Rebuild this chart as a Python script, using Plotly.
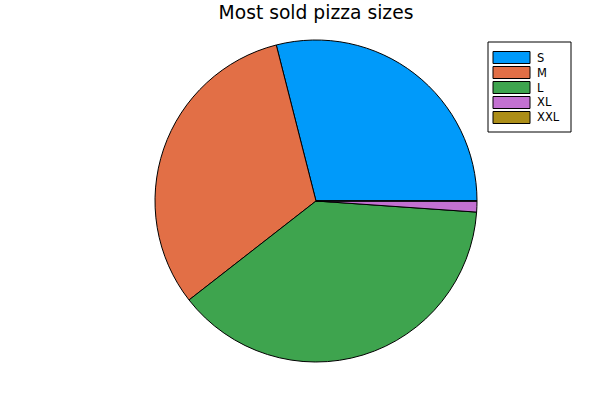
import plotly.graph_objects as go

sizes = ["S", "M", "L", "XL", "XXL"]
shares = [29.0, 31.6, 38.4, 1.1, 0.0]
colors = ["#009AFA", "#E26F46", "#3EA44E", "#C371D2", "#AC8E18"]

W, H = 600, 400


def px(x):
    return x / W


def py(y):
    return 1 - y / H


# first slice should start at 3 o'clock and run counterclockwise
first_span = 360.0 * shares[0] / sum(shares)

fig = go.Figure()
fig.add_trace(go.Pie(
    labels=sizes,
    values=shares,
    sort=False,
    direction="counterclockwise",
    rotation=90 - first_span,
    textinfo="none",
    hoverinfo="label+value",
    marker=dict(colors=colors, line=dict(color="#000000", width=1)),
    domain=dict(x=[px(155), px(477)], y=[py(362), py(40)]),
    showlegend=False,
))

# Plots.jl-style legend: framed box with wide swatches
shapes = [dict(type="rect", xref="paper", yref="paper",
               x0=px(488), x1=px(571), y0=py(132), y1=py(42),
               line=dict(color="#000000", width=1), fillcolor="white")]
annotations = []
for i, (lab, col) in enumerate(zip(sizes, colors)):
    yc = 57.5 + i * 15.0
    shapes.append(dict(type="rect", xref="paper", yref="paper",
                       x0=px(493), x1=px(530),
                       y0=py(yc + 6), y1=py(yc - 6),
                       line=dict(color="#000000", width=1), fillcolor=col))
    annotations.append(dict(xref="paper", yref="paper", x=px(535), y=py(yc),
                            text=lab, showarrow=False, xanchor="left", yanchor="middle",
                            font=dict(size=11.5, color="#000000")))

fig.update_layout(
    width=W, height=H,
    margin=dict(l=0, r=0, t=0, b=0),
    paper_bgcolor="white",
    plot_bgcolor="white",
    font=dict(family="DejaVu Sans", color="#000000"),
    title=dict(text="Most sold pizza sizes", x=px(316), xanchor="center",
               y=py(12), yanchor="middle", font=dict(size=18.7)),
    shapes=shapes,
    annotations=annotations,
    showlegend=False,
)

# drop the default page margin so the figure sits at the window's corner
fig.write_html("out.html", config={"displayModeBar": False},
               post_script="document.body.style.margin='0';")
